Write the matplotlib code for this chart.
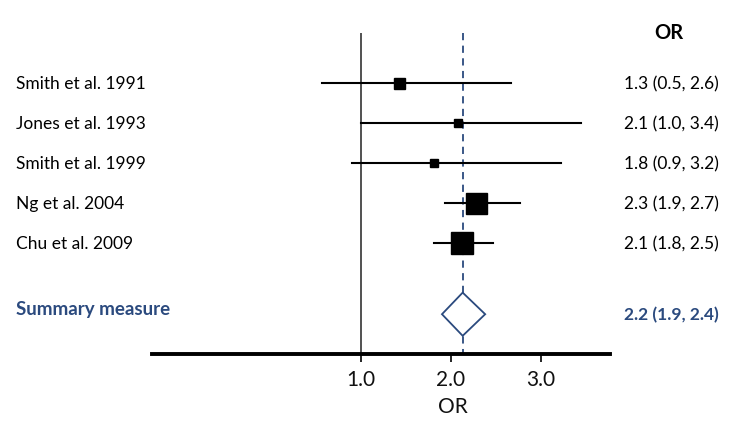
import matplotlib.pyplot as plt
from matplotlib.patches import Polygon

# studies
studies = ['Smith et al. 1991', 'Jones et al. 1993', 'Smith et al. 1999',
           'Ng et al. 2004', 'Chu et al. 2009']
or_est = [1.42, 2.08, 1.81, 2.28, 2.12]
ci_low = [0.57, 1.0, 0.9, 1.93, 1.81]
ci_high = [2.67, 3.44, 3.22, 2.77, 2.47]
weights = [11, 8, 8, 21, 22]          # marker size in px
or_text = ['1.3 (0.5, 2.6)', '2.1 (1.0, 3.4)', '1.8 (0.9, 3.2)',
           '2.3 (1.9, 2.7)', '2.1 (1.8, 2.5)']

summary_label = 'Summary measure'
summary_est = 2.13
summary_low = 1.9
summary_high = 2.38
summary_text = '2.2 (1.9, 2.4)'

ticks = [1.0, 2.0, 3.0]

blue = '#2b4a7e'
font = ['Lato', 'DejaVu Sans']
plt.rcParams['font.family'] = font

W, H = 756, 439
fig = plt.figure(figsize=(W / 100, H / 100), dpi=100)
ax = fig.add_axes([152 / W, 1 - 355 / H, 458 / W, 321 / H])
ax.set_xlim(-1.322, 3.767)
ax.set_ylim(6.775, -1.25)

rows = list(range(len(studies)))
summary_row = 5.78

# reference lines
ax.plot([1, 1], [-1.25, 6.775], color='#333333', lw=1.2, zorder=1)
ax.plot([summary_est, summary_est], [-1.25, 6.775], color=blue, lw=1.3,
        ls=(0, (4, 3)), zorder=1)

for i in rows:
    ax.plot([ci_low[i], ci_high[i]], [i, i], color='black', lw=1.5, zorder=2)
    ax.plot(or_est[i], i, marker='s', color='black',
            markersize=weights[i] * 0.72, zorder=3)

# summary diamond
dh = 0.54
diamond = Polygon([[summary_low, summary_row], [summary_est, summary_row - dh],
                   [summary_high, summary_row], [summary_est, summary_row + dh]],
                  closed=True, facecolor='white', edgecolor=blue, lw=1.3, zorder=3)
ax.add_patch(diamond)

# axis
for s in ['top', 'right', 'left']:
    ax.spines[s].set_visible(False)
ax.spines['bottom'].set_linewidth(2.8)
ax.set_yticks([])
ax.set_xticks(ticks)
ax.set_xticklabels([f'{t:.1f}' for t in ticks], fontsize=15, color='#111111')
ax.tick_params(axis='x', length=6, width=1.2, pad=5)
fig.text(453 / W, 1 - 407 / H, 'OR', fontsize=15, color='#111111',
         ha='center', va='center')

# left labels
for i in rows:
    fig.text(16 / W, 1 - (84 + 40 * i) / H, studies[i], fontsize=12.5,
             va='center', ha='left')
fig.text(16 / W, 1 - 310 / H, summary_label, fontsize=13.5, fontweight='bold',
         color=blue, va='center', ha='left')

# right labels
fig.text(669 / W, 1 - 33 / H, 'OR', fontsize=14.5, fontweight='bold',
         ha='center', va='center')
for i in rows:
    fig.text(671 / W, 1 - (84 + 40 * i) / H, or_text[i], fontsize=12.5,
             ha='center', va='center')
fig.text(671 / W, 1 - 315 / H, summary_text, fontsize=12.5, fontweight='bold',
         color=blue, ha='center', va='center')

fig.savefig('out.png', dpi=100)
